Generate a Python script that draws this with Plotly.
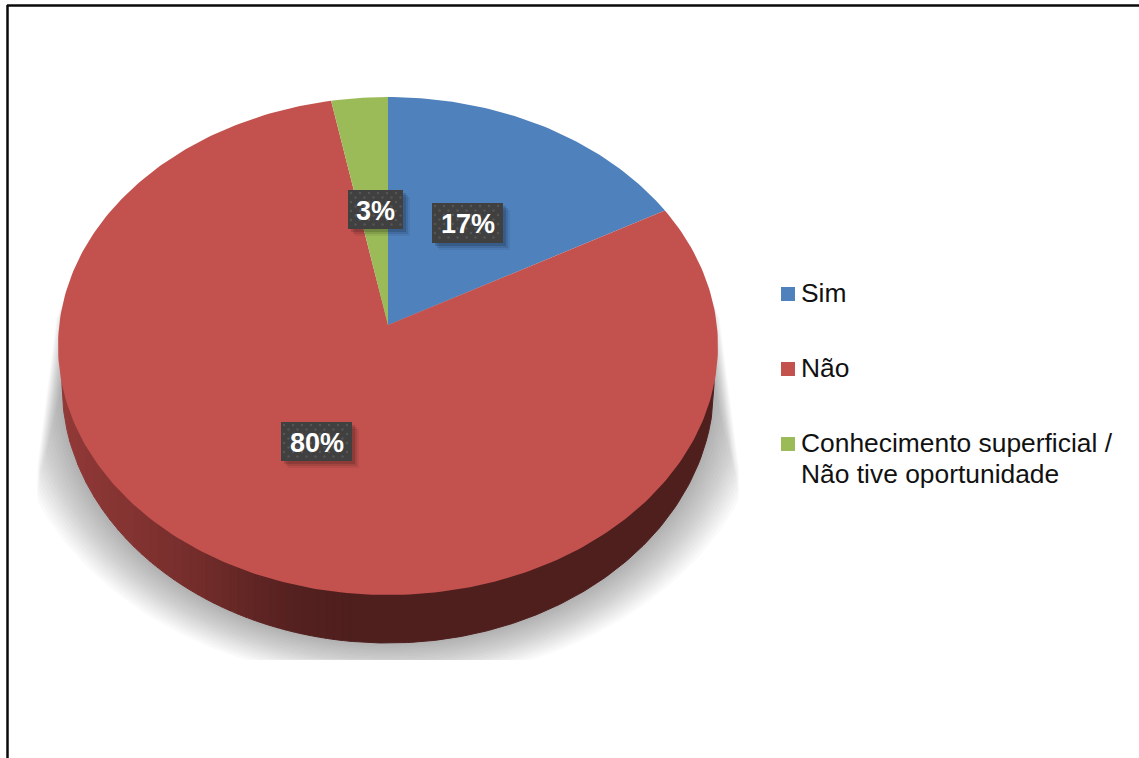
import numpy as np
import plotly.graph_objects as go

# Survey answers and their share of responses
categories = ["Sim", "Não", "Conhecimento superficial /<br>Não tive oportunidade"]
shares = [17, 80, 3]
share_labels = ["17%", "80%", "3%"]
slice_colors = ["#4f81bd", "#c3524f", "#9bbb59"]

WIDTH, HEIGHT = 1139, 758
FONT = "Liberation Sans"

# Tilted disc: apex of the slices, half width, and the projective foreshortening
CX, CY = 388.0, 325.0
TILT_C, TILT_A, HALF_W = 0.0843, -219.8, 328.8

# Ellipse of the wall's lower edge
RIM_CY, RIM_RX, RIM_RY = 385.0, 326.0, 258.0


def disc_point(turn):
    """Map a fraction of a full turn (clockwise from 12 o'clock) onto the tilted disc."""
    theta = np.asarray(turn) * 2 * np.pi
    u, v = np.sin(theta), np.cos(theta)
    den = 1 + TILT_C * v
    return CX + HALF_W * u / den, (TILT_A * v + CY) / den


def lower_rim(x):
    """Lower edge of the disc's side wall."""
    return RIM_CY + RIM_RY * np.sqrt(np.clip(1 - ((x - CX) / RIM_RX) ** 2, 0, 1))


def polygon(xs, ys, color, line=None, width=1):
    return go.Scatter(
        x=list(xs), y=list(ys), mode="lines", fill="toself", fillcolor=color,
        line=dict(color=line or "rgba(0,0,0,0)", width=width if line else 0),
        hoverinfo="skip", showlegend=False,
    )


fig = go.Figure()

# Soft ground shadow: stacked translucent ellipses, trimmed to a flared silhouette
for d in np.linspace(55, 0, 18):
    t = np.linspace(0, 2 * np.pi, 240)
    xs = CX + (RIM_RX + d) * np.cos(t)
    ys = RIM_CY + (RIM_RY + 0.7 * d) * np.sin(t)
    ys = np.clip(ys, 262 + d, 660)
    spread = np.clip((ys - 275) / 195, 0, 1) * 25
    inset = (55 - d) * 0.25
    xs = np.clip(xs, 62 - spread + inset, 714 + spread - inset)
    fig.add_trace(polygon(xs, ys, "rgba(60,60,60,0.022)"))

# Side wall: shaded strips on the lit left part, a flat dark run to the right
grad_x = [62, 130, 190, 250, 300, 350]
grad_r = [146, 132, 118, 98, 84, 79]
grad_g = [58, 52, 46, 38, 33, 31]
grad_b = [56, 50, 44, 37, 32, 30]
edges = np.arange(62, 351, 8.0)
for x0, x1 in zip(edges[:-1], edges[1:]):
    mid = (x0 + x1) / 2
    color = "rgb(%d,%d,%d)" % (
        np.interp(mid, grad_x, grad_r),
        np.interp(mid, grad_x, grad_g),
        np.interp(mid, grad_x, grad_b),
    )
    sx = np.linspace(x0, x1, 6)
    fig.add_trace(polygon(
        [x0, *sx, x1], [350, *lower_rim(sx), 350], color, line=color,
    ))
sx = np.linspace(edges[-1], 714, 140)
fig.add_trace(polygon(
    [edges[-1], *sx, 714], [350, *lower_rim(sx), 350], "#4f1f1e", line="#4f1f1e",
))

# Top surface of the pie, one wedge per answer, built from the shares
stops = np.concatenate([[0], np.cumsum(shares)]) / sum(shares)
for start, stop, color in zip(stops[:-1], stops[1:], slice_colors):
    turns = np.linspace(start, stop, max(int((stop - start) * 360), 6))
    px, py = disc_point(turns)
    fig.add_trace(polygon([CX, *px, CX], [CY, *py, CY], color))

# Dark value tags with a drop shadow and a fine dotted texture
tag_boxes = [(432, 203, 503, 243), (281, 422, 352, 461), (348, 190, 403, 229)]
annotations = []
for box, text in zip(tag_boxes, share_labels):
    x0, y0, x1, y1 = box
    for off, alpha in [(7, 0.06), (5, 0.1), (3, 0.14)]:
        fig.add_trace(polygon(
            [x0 + off, x1 + off, x1 + off, x0 + off, x0 + off],
            [y0 + off, y0 + off, y1 + off, y1 + off, y0 + off],
            f"rgba(0,0,0,{alpha})",
        ))
    fig.add_trace(polygon([x0, x1, x1, x0, x0], [y0, y0, y1, y1, y0], "#404040"))
    dots_x, dots_y = [], []
    for row, dy in enumerate(np.arange(y0 + 3, y1 - 1, 4.5)):
        for dx in np.arange(x0 + 3 + (row % 2) * 4.5, x1 - 1, 9):
            dots_x.append(dx)
            dots_y.append(dy)
    fig.add_trace(go.Scatter(
        x=dots_x, y=dots_y, mode="markers",
        marker=dict(size=2.5, color="rgba(125,125,125,0.35)", line=dict(width=0)),
        hoverinfo="skip", showlegend=False,
    ))
    annotations.append(dict(
        x=(x0 + x1) / 2, y=(y0 + y1) / 2 + 1, text=f"<b>{text}</b>", showarrow=False,
        xanchor="center", yanchor="middle",
        font=dict(family=FONT, size=27, color="white"),
    ))

# Legend swatches and captions; wrapped captions are set line by line
legend_y = [294, 369, 444]
LEGEND_LEADING = 31
fig.add_trace(go.Scatter(
    x=[788] * 3, y=legend_y, mode="markers",
    marker=dict(symbol="square", size=14, color=slice_colors, line=dict(width=0)),
    hoverinfo="skip", showlegend=False,
))
for name, y in zip(categories, legend_y):
    for i, caption in enumerate(name.split("<br>")):
        annotations.append(dict(
            x=799, y=y - 1 + i * LEGEND_LEADING, text=caption, showarrow=False,
            align="left", xanchor="left", yanchor="middle",
            font=dict(family=FONT, size=26.4, color="#111111"),
        ))

# Outer frame, open on the right and bottom
frame = dict(type="line", xref="x", yref="y", line=dict(color="#0a0a0a", width=2.5))

fig.update_layout(
    width=WIDTH, height=HEIGHT, autosize=False,
    margin=dict(l=0, r=0, t=0, b=0),
    paper_bgcolor="white", plot_bgcolor="white",
    xaxis=dict(range=[0, WIDTH], visible=False, fixedrange=True),
    yaxis=dict(range=[HEIGHT, 0], visible=False, fixedrange=True),
    shapes=[
        dict(frame, x0=7, y0=5.5, x1=WIDTH, y1=5.5),
        dict(frame, x0=7.5, y0=5, x1=7.5, y1=HEIGHT),
    ],
    annotations=annotations,
    showlegend=False,
)

fig.write_html("out.html", config={"displayModeBar": False})
